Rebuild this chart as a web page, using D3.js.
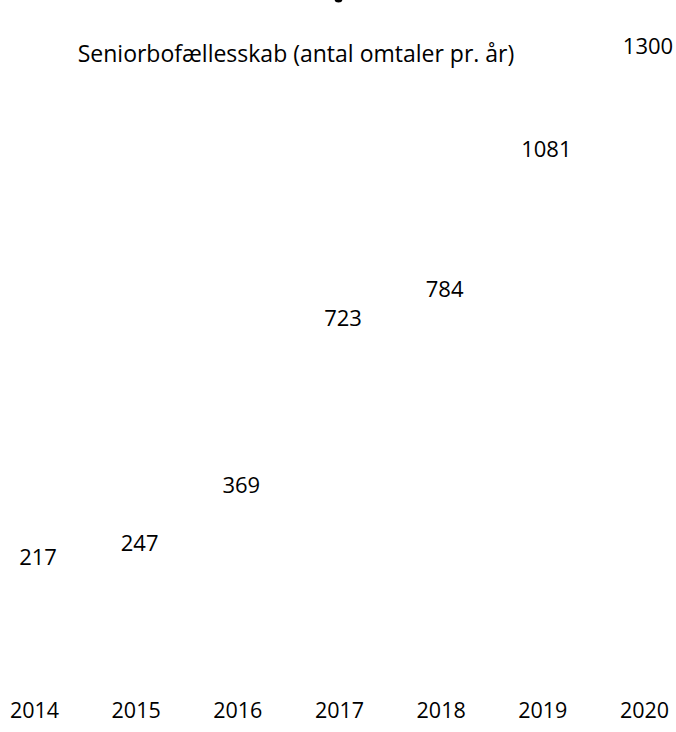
<!DOCTYPE html>
<html>
<head>
<meta charset="utf-8">
<script src="https://cdn.jsdelivr.net/npm/d3@7"></script>
<style>
  html, body { margin: 0; padding: 0; background: #fff; }
  svg { display: block; }
  text { font-family: "Open Sans", "Noto Sans", sans-serif; fill: #000; }
</style>
</head>
<body>
<svg id="chart" width="676" height="732"></svg>
<script>
const years = ["2014", "2015", "2016", "2017", "2018", "2019", "2020"];
const mentions = [217, 247, 369, 723, 784, 1081, 1300];
const seriesTitle = "Seniorbofællesskab (antal omtaler pr. år)";

const svg = d3.select("#chart");

const x = d3.scalePoint().domain(years).range([34, 644]);
const y = d3.scaleLinear().domain([0, 1300]).range([667.4, 53.8]);

// clipped glyph at the very top of the frame
svg.append("ellipse").attr("cx", 338.5).attr("cy", -1).attr("rx", 4).attr("ry", 3.5).attr("fill", "#000");

// title
svg.append("text")
  .attr("x", 296).attr("y", 62)
  .attr("text-anchor", "middle")
  .style("font-size", "23px")
  .text(seriesTitle);

// x axis labels (no line, no ticks)
const xAxis = d3.axisBottom(x).tickSize(0).tickPadding(0);
const gx = svg.append("g").attr("transform", "translate(0,700)").call(xAxis);
gx.select(".domain").remove();
gx.selectAll("text")
  .attr("dy", null).attr("y", 18)
  .style("font-size", "21.5px")
  .style("font-family", "'Open Sans', 'Noto Sans', sans-serif")
  .attr("fill", "#000");

// data labels
svg.append("g").selectAll("text")
  .data(years.map((d, i) => ({ year: d, v: mentions[i] })))
  .join("text")
  .attr("x", d => x(d.year) + 4)
  .attr("y", d => y(d.v))
  .attr("text-anchor", "middle")
  .style("font-size", "22px")
  .text(d => d.v);
</script>
</body>
</html>
